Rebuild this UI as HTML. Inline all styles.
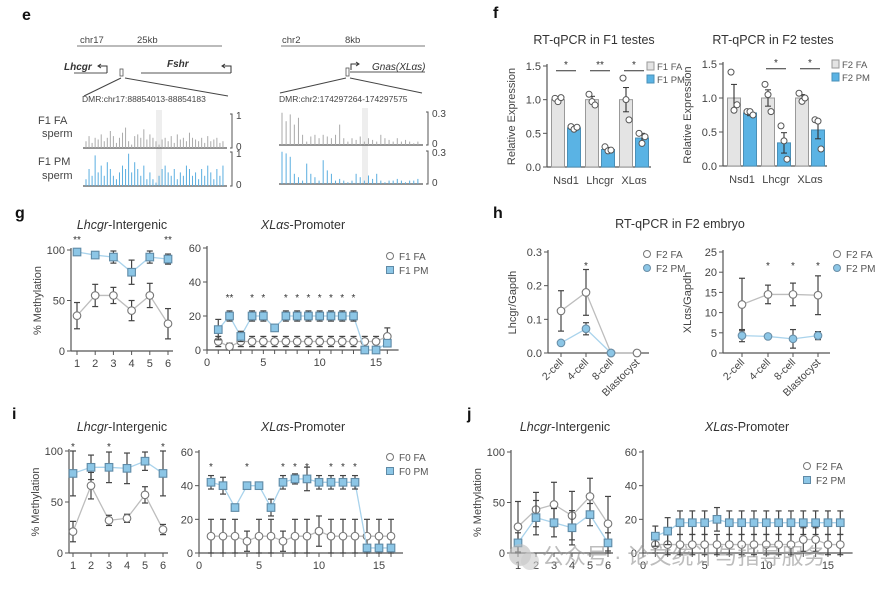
<!DOCTYPE html>
<html><head><meta charset="utf-8"><style>
html,body{margin:0;padding:0;background:#fff;}
svg{display:block;font-family:"Liberation Sans","Noto Sans CJK SC",sans-serif;}
</style></head><body>
<svg id="fig" width="896" height="592" viewBox="0 0 896 592"></svg>
<script>
// ---------- data ----------
const eFaLeft=[0.2,0.35,0.15,0.3,0.25,0.4,0.2,0.3,0.5,0.35,0.15,0.3,0.45,0.6,0.2,0.1,0.35,0.4,0.3,0.55,0.25,0.4,0.3,0.2,0.1,0.25,0.3,0.2,0.35,0.15,0.4,0.25,0.3,0.2,0.45,0.3,0.25,0.2,0.3,0.15,0.35,0.2,0.25,0.3,0.15,0.2];
const ePmLeft=[0.2,0.5,0.3,0.9,0.4,0.6,0.3,0.7,0.5,0.3,0.2,0.4,0.6,0.5,0.95,0.4,0.7,0.5,0.3,0.6,0.2,0.4,0.2,0.1,0.3,0.5,0.6,0.4,0.3,0.5,0.2,0.4,0.3,0.6,0.5,0.3,0.4,0.2,0.5,0.3,0.6,0.4,0.2,0.5,0.3,0.6];
const eFaRight=[0.95,0.7,0.9,0.6,0.8,0.3,0.1,0.25,0.3,0.2,0.3,0.25,0.2,0.3,0.6,0.2,0.1,0.2,0.15,0.25,0.1,0.2,0.15,0.1,0.3,0.2,0.15,0.1,0.2,0.1,0.15,0.1,0.05,0.1];
const ePmRight=[0.95,0.9,0.8,0.3,0.2,0.1,0.6,0.3,0.2,0.1,0.7,0.4,0.3,0.1,0.15,0.1,0.05,0.1,0.3,0.2,0.1,0.25,0.15,0.3,0.1,0.05,0.1,0.1,0.15,0.1,0.05,0.1,0.1,0.15];
const fCats=["Nsd1","Lhcgr","XLas"];
const f1FA=[1.0,1.0,1.0], f1FAerr=[0.04,0.05,0.18];
const f1PM=[0.58,0.26,0.43], f1PMerr=[0.03,0.03,0.07];
const f1FAdots=[[1.02,0.97,1.03],[1.08,0.97,0.92],[1.32,1.0,0.7]];
const f1PMdots=[[0.6,0.56,0.59],[0.3,0.24,0.25],[0.5,0.35,0.45]];
const f1Sig=["*","**","*"];
const f2FA=[1.0,1.0,1.0], f2FAerr=[0.2,0.12,0.05];
const f2PM=[0.78,0.34,0.53], f2PMerr=[0.04,0.15,0.13];
const f2FAdots=[[1.38,0.82,0.9],[1.2,1.05,0.8],[1.07,0.95,1.0]];
const f2PMdots=[[0.8,0.8,0.75],[0.59,0.37,0.1],[0.68,0.66,0.25]];
const f2Sig=["","*","*"];
const fTicks=[0,0.5,1.0,1.5];
const gLFA=[35,55,55,40,55,27], gLFAerr=[13,11,8,10,12,15];
const gLPM=[98,95,93,78,93,91], gLPMerr=[2,2,6,12,6,5];
const gLStars=["**","","","","","**"];
const gRFA=[5,2,5,5,5,5,5,5,5,5,5,5,5,5,5,8], gRFAerr=[3,2,3,3,3,3,3,3,3,3,3,3,3,3,3,5];
const gRPM=[12,20,8,20,20,13,20,20,20,20,20,20,20,0,0,4], gRPMerr=[6,3,3,3,3,0,3,3,3,3,3,3,3,0,0,0];
const gRStars=["","**","","*","*","","*","*","*","*","*","*","*","","",""];
const hCats=["2-cell","4-cell","8-cell","Blastocyst"];
const hLFA=[0.125,0.18,0,0], hLFAerr=[0.06,0.068,0,0];
const hLPM=[0.03,0.072,0,null], hLPMerr=[0.005,0.018,0,0];
const hLStars=["","*","",""];
const hRFA=[12,14.5,14.5,14.3], hRFAerr=[6.5,2.3,2.8,4.8];
const hRPM=[4.3,4.1,3.5,4.3], hRPMerr=[1.5,0.3,2.3,1];
const hRStars=["","*","*","*"];
const iLFA=[21,66,32,34,57,23], iLFAerr=[10,13,5,4,8,5];
const iLPM=[78,84,84,83,90,78], iLPMerr=[22,12,15,15,9,22];
const iLStars=["*","","*","","","*"];
const iRFA=[10,10,10,7,10,10,7,10,10,13,10,10,10,10,10,10], iRFAerr=[10,10,10,6,10,10,6,10,10,9,10,10,10,10,10,10];
const iRPM=[42,40,27,40,40,27,42,44,44,42,42,42,42,3,3,3], iRPMerr=[4,5,0,2,2,5,4,3,7,4,4,4,4,2,2,2];
const iRStars=["*","","","*","","","*","*","*","","*","*","*","","",""];
const jLFA=[26,43,48,37,56,29], jLFAerr=[25,17,22,24,18,27];
const jLPM=[10,35,30,25,38,10], jLPMerr=[10,17,14,17,11,10];
const jRFA=[5,5,5,5,5,5,5,5,5,5,5,5,8,8,5,5], jRFAerr=[5,6,6,6,6,6,6,6,6,6,6,6,7,7,6,6];
const jRPM=[10,13,18,18,18,20,18,18,18,18,18,18,18,18,18,18], jRPMerr=[6,8,7,7,7,7,7,7,7,7,7,7,7,7,7,7];

// ---------- helpers ----------
const NS="http://www.w3.org/2000/svg";
const S=document.getElementById('fig');
function mk(tag,attrs,par){const e=document.createElementNS(NS,tag);for(const k in attrs)e.setAttribute(k,attrs[k]);(par||S).appendChild(e);return e;}
function tx(x,y,s,size,anchor,extra,par){const e=mk('text',Object.assign({x:x,y:y,'font-size':size,'text-anchor':anchor||'start',fill:'#333'},extra||{}),par);e.textContent=s;return e;}
function grp(name){const g=mk('g',{});return g;}
const AX='#555', ERR='#444', BLUE='#8cc6e6', BLUEL='#a9d3ec', GRAYL='#bdbdbd';

function yAxis(g,x,yb,yt,ticks,ys,fmt){
  const l=mk('line',{x1:x,y1:yb,x2:x,y2:yt-2,stroke:AX,'stroke-width':1.2},g);
  
  ticks.forEach(t=>{mk('line',{x1:x-4,y1:ys(t),x2:x,y2:ys(t),stroke:AX},g);
    const e=tx(x-6,ys(t)+4,fmt?fmt(t):t,11,'end',{fill:'#444'},g);
    });
}
function xAxisNum(g,x0,x1,yb,xs,tickVals,labelVals){
  const l=mk('line',{x1:x0,y1:yb,x2:x1,y2:yb,stroke:AX,'stroke-width':1.2},g);
  
  tickVals.forEach(t=>mk('line',{x1:xs(t),y1:yb,x2:xs(t),y2:yb+4,stroke:AX},g));
  labelVals.forEach(t=>{const e=tx(xs(t),yb+16,t,11,'middle',{fill:'#444'},g);
    });
}
function series(g,vals,errs,xs,ys,kind,name){
  const sg=mk('g',{},g);
  const pts=[];vals.forEach((v,i)=>{if(v!==null)pts.push(xs(i)+','+ys(v));});
  mk('polyline',{points:pts.join(' '),fill:'none',stroke:kind==='c'?GRAYL:BLUEL,'stroke-width':1.3},sg);
  vals.forEach((v,i)=>{if(v===null)return;const x=xs(i),e=errs[i];
    if(e>0){mk('line',{x1:x,y1:ys(v-e),x2:x,y2:ys(v+e),stroke:ERR,'stroke-width':1.2},sg);
      mk('line',{x1:x-3,y1:ys(v+e),x2:x+3,y2:ys(v+e),stroke:ERR,'stroke-width':1.2},sg);
      mk('line',{x1:x-3,y1:ys(v-e),x2:x+3,y2:ys(v-e),stroke:ERR,'stroke-width':1.2},sg);}
    let m;
    if(kind==='c')m=mk('circle',{cx:x,cy:ys(v),r:3.8,fill:'#fff',stroke:'#777','stroke-width':1.1},sg);
    else if(kind==='bc')m=mk('circle',{cx:x,cy:ys(v),r:3.8,fill:BLUE,stroke:'#6a8fa8','stroke-width':1.1},sg);
    else m=mk('rect',{x:x-3.8,y:ys(v)-3.8,width:7.6,height:7.6,fill:BLUE,stroke:'#5f8aa6','stroke-width':1.1},sg);
    
  });
}
function stars(g,arr,xs,y){arr.forEach((s,i)=>{if(s){const e=tx(xs(i),y,s,10,'middle',{fill:'#333'},g);}});}
function legend(g,x,y,l1,l2,kind2){
  const c=mk('circle',{cx:x,cy:y-4,r:3.5,fill:'#fff',stroke:'#777'},g);
  
  tx(x+9,y,l1,10,'start',{fill:'#555'},g);
  let m;
  if(kind2==='bc')m=mk('circle',{cx:x,cy:y+10,r:3.5,fill:BLUE,stroke:'#6a8fa8'},g);
  else m=mk('rect',{x:x-3.5,y:y+6.5,width:7,height:7,fill:BLUE,stroke:'#5f8aa6'},g);
  
  tx(x+9,y+14,l2,10,'start',{fill:'#555'},g);
}
function title(g,x,y,it,rest){const t=tx(x,y,'',12.5,'middle',{fill:'#333'},g);
  const a=mk('tspan',{'font-style':'italic'},t);a.textContent=it;const b=mk('tspan',{},t);b.textContent=rest;
  }
function ytitle(g,x,y,s){const e=tx(x,y,s,11,'middle',{fill:'#444',transform:'rotate(-90 '+x+' '+y+')'},g);}
function letter(x,y,s){const e=tx(x,y,s,16,'start',{'font-weight':'bold',fill:'#111'});}

function methPanel(name,cfg){
  const g=grp(name);
  const L=cfg.L;
  const lxs=i=>L.x1+i*(L.x6-L.x1)/5, lxsN=d=>L.x1+(d-1)*(L.x6-L.x1)/5;
  const lys=v=>L.y0-v*(L.y0-L.yT)/100;
  yAxis(g,L.ax,L.y0,L.yT,[0,50,100],lys);
  xAxisNum(g,L.ax,L.x6+5,L.y0,lxsN,[1,2,3,4,5,6],[1,2,3,4,5,6]);
  series(g,cfg.lfa,cfg.lfaE,lxs,lys,'c','left-fa-series');
  series(g,cfg.lpm,cfg.lpmE,lxs,lys,'s','left-pm-series');
  if(cfg.lst)stars(g,cfg.lst,lxs,L.starY);
  title(g,L.tx,L.ty,'Lhcgr','-Intergenic');
  ytitle(g,L.ax-30,(L.y0+L.yT)/2,'% Methylation');
  const R=cfg.R;
  const rxsN=d=>R.ax+d*R.u, rxs=i=>R.ax+(i+1)*R.u;
  const rys=v=>R.y0-v*(R.y0-R.yT)/60;
  yAxis(g,R.ax,R.y0,R.yT,[0,20,40,60],rys);
  xAxisNum(g,R.ax,R.ax+17*R.u,R.y0,rxsN,[0,1,2,3,4,5,6,7,8,9,10,11,12,13,14,15,16],[0,5,10,15]);
  series(g,cfg.rfa,cfg.rfaE,rxs,rys,'c','right-fa-series');
  series(g,cfg.rpm,cfg.rpmE,rxs,rys,'s','right-pm-series');
  if(cfg.rst)stars(g,cfg.rst,rxs,R.starY);
  title(g,R.tx,L.ty,'XLαs','-Promoter');
  legend(g,R.lx,R.ly,cfg.l1,cfg.l2,'s');
}

// panel e
(function(){
  const g=grp('panel-e-genome-tracks');
  letter(22,20,'e');
  mk('line',{x1:77,y1:46,x2:222,y2:46,stroke:'#777'},g);
  tx(80,43,'chr17',9.5,'start',{fill:'#444'},g);tx(137,43,'25kb',9.5,'start',{fill:'#444'},g);
  mk('line',{x1:281,y1:46,x2:425,y2:46,stroke:'#777'},g);
  tx(282,43,'chr2',9.5,'start',{fill:'#444'},g);tx(345,43,'8kb',9.5,'start',{fill:'#444'},g);
  tx(64,70,'Lhcgr',10,'start',{'font-style':'italic','font-weight':'bold',fill:'#333'},g);
  mk('line',{x1:74,y1:73,x2:107,y2:73,stroke:'#555'},g);
  mk('path',{d:'M107,73 V66 H98 M101,64 L98,66 L101,68',fill:'none',stroke:'#333'},g);
  mk('rect',{x:120,y:69,width:3,height:7,fill:'#fff',stroke:'#555','stroke-width':0.8},g);
  tx(167,67,'Fshr',10,'start',{'font-style':'italic','font-weight':'bold',fill:'#333'},g);
  mk('line',{x1:141,y1:73,x2:231,y2:73,stroke:'#555'},g);
  mk('path',{d:'M231,73 V66 H222 M225,64 L222,66 L225,68',fill:'none',stroke:'#333'},g);
  mk('path',{d:'M121,78 L84,96 M125,78 L228,96',fill:'none',stroke:'#444'},g);
  tx(82,102,'DMR:chr17:88854013-88854183',8.5,'start',{fill:'#444'},g);
  tx(372,70,'Gnas(XLαs)',10,'start',{'font-style':'italic',fill:'#333'},g);
  mk('rect',{x:346,y:68,width:3,height:8,fill:'#fff',stroke:'#555','stroke-width':0.8},g);
  mk('line',{x1:350,y1:72,x2:425,y2:72,stroke:'#555'},g);
  mk('path',{d:'M351,70 V64 H359 M356,62 L359,64 L356,66',fill:'none',stroke:'#333'},g);
  mk('path',{d:'M346,78 L280,93 M350,78 L422,93',fill:'none',stroke:'#444'},g);
  tx(279,102,'DMR:chr2:174297264-174297575',8.5,'start',{fill:'#444'},g);
  tx(38,124,'F1 FA',11,'start',{fill:'#444'},g);tx(42,137,'sperm',11,'start',{fill:'#444'},g);
  tx(38,165,'F1 PM',11,'start',{fill:'#444'},g);tx(42,179,'sperm',11,'start',{fill:'#444'},g);
  mk('rect',{x:156,y:110,width:6,height:76,fill:'#eee'},g);
  mk('rect',{x:362,y:108,width:6,height:76,fill:'#eee'},g);
  function track(vals,x0,x1,yb,color,name){
    const tg=mk('g',{},g);
    mk('line',{x1:x0,y1:yb,x2:x1,y2:yb,stroke:'#555','stroke-width':1.2},tg);
    const step=(x1-x0-4)/vals.length;
    vals.forEach((v,i)=>mk('line',{x1:x0+3+i*step,y1:yb,x2:x0+3+i*step,y2:yb-v*34,stroke:color,'stroke-width':1},tg));
  }
  track(eFaLeft,83,227,148,'#aaa','fa-left-track');
  track(ePmLeft,83,227,186,'#5aaee0','pm-left-track');
  track(eFaRight,279,423,145,'#aaa','fa-right-track');
  track(ePmRight,279,423,184,'#5aaee0','pm-right-track');
  [[232,114,148,'1','0'],[232,152,186,'1','0'],[428,112,145,'0.3','0'],[428,151,184,'0.3','0']].forEach(s=>{
    mk('path',{d:'M'+(s[0]-2)+','+s[1]+' H'+s[0]+' V'+s[2]+' H'+(s[0]-2),fill:'none',stroke:'#555'},g);
    tx(s[0]+4,s[1]+5,s[3],10,'start',{fill:'#444'},g);tx(s[0]+4,s[2]+2,s[4],10,'start',{fill:'#444'},g);});
})();

// panel f
function barPanel(name,cfg){
  const g=grp(name);
  const ys=v=>cfg.y0-v*(cfg.y0-cfg.yT)/1.5;
  yAxis(g,cfg.ax,cfg.y0,cfg.yT,fTicks,ys,t=>t.toFixed(1));
  const xl=mk('line',{x1:cfg.ax,y1:cfg.y0,x2:cfg.ax+104,y2:cfg.y0,stroke:AX,'stroke-width':1.2},g);
  
  const xc=i=>cfg.ax+19+i*34;
  fCats.forEach((c,i)=>{
    const xa=xc(i)-8,xb=xc(i)+8,w=13;
    const b1=mk('rect',{x:xa-w/2,y:ys(cfg.fa[i]),width:w,height:cfg.y0-ys(cfg.fa[i]),fill:'#e4e4e4',stroke:'#999'},g);
    
    const b2=mk('rect',{x:xb-w/2,y:ys(cfg.pm[i]),width:w,height:cfg.y0-ys(cfg.pm[i]),fill:'#5ab3e4',stroke:'#4a90b8'},g);
    
    [[xa,cfg.fa[i],cfg.faE[i],cfg.faD[i]],[xb,cfg.pm[i],cfg.pmE[i],cfg.pmD[i]]].forEach(q=>{
      mk('line',{x1:q[0],y1:ys(q[1]-q[2]),x2:q[0],y2:ys(q[1]+q[2]),stroke:'#333','stroke-width':1.1},g);
      mk('line',{x1:q[0]-3,y1:ys(q[1]+q[2]),x2:q[0]+3,y2:ys(q[1]+q[2]),stroke:'#333'},g);
      mk('line',{x1:q[0]-3,y1:ys(q[1]-q[2]),x2:q[0]+3,y2:ys(q[1]-q[2]),stroke:'#333'},g);
      q[3].forEach((d,k)=>mk('circle',{cx:q[0]+(k-1)*3,cy:ys(d),r:3,fill:'#fff',stroke:'#555'},g));
    });
    if(cfg.sig[i]){mk('line',{x1:xa-2,y1:ys(1.43),x2:xb+2,y2:ys(1.43),stroke:'#333'},g);
      tx(xc(i),ys(1.47),cfg.sig[i],10,'middle',{},g);}
    const l=tx(xc(i),cfg.y0+17,c==='XLas'?'XLαs':c,11,'middle',{fill:'#444'},g);
    
  });
  const t=tx(cfg.tx,44,cfg.title,12.5,'middle',{fill:'#333'},g);
  
  ytitle(g,cfg.ax-32,(cfg.y0+cfg.yT)/2,'Relative Expression');
  mk('rect',{x:cfg.lx,y:cfg.yT-4,width:7,height:8,fill:'#e4e4e4',stroke:'#999'},g);
  tx(cfg.lx+10,cfg.yT+4,cfg.l1,9.5,'start',{fill:'#555'},g);
  mk('rect',{x:cfg.lx,y:cfg.yT+9,width:7,height:8,fill:'#5ab3e4',stroke:'#4a90b8'},g);
  tx(cfg.lx+10,cfg.yT+17,cfg.l2,9.5,'start',{fill:'#555'},g);
}
letter(493,18,'f');
barPanel('panel-f-f1-testes',{ax:547,y0:167,yT:66,fa:f1FA,faE:f1FAerr,pm:f1PM,pmE:f1PMerr,faD:f1FAdots,pmD:f1PMdots,sig:f1Sig,title:'RT-qPCR in F1 testes',tx:594,lx:647,l1:'F1 FA',l2:'F1 PM'});
barPanel('panel-f-f2-testes',{ax:723,y0:166,yT:64,fa:f2FA,faE:f2FAerr,pm:f2PM,pmE:f2PMerr,faD:f2FAdots,pmD:f2PMdots,sig:f2Sig,title:'RT-qPCR in F2 testes',tx:773,lx:832,l1:'F2 FA',l2:'F2 PM'});

letter(15,218,'g');
methPanel('panel-g',{L:{ax:71,x1:77,x6:168,y0:351,yT:250,tx:122,ty:229,starY:243},
  R:{ax:207,u:11.27,y0:350,yT:248,starY:301,lx:390,ly:260,tx:303},
  lfa:gLFA,lfaE:gLFAerr,lpm:gLPM,lpmE:gLPMerr,lst:gLStars,
  rfa:gRFA,rfaE:gRFAerr,rpm:gRPM,rpmE:gRPMerr,rst:gRStars,l1:'F1 FA',l2:'F1 PM'});
letter(12,419,'i');
methPanel('panel-i',{L:{ax:69,x1:73,x6:163,y0:553,yT:451,tx:122,ty:431,starY:450},
  R:{ax:199,u:12,y0:553,yT:452,starY:470,lx:390,ly:461,tx:303},
  lfa:iLFA,lfaE:iLFAerr,lpm:iLPM,lpmE:iLPMerr,lst:iLStars,
  rfa:iRFA,rfaE:iRFAerr,rpm:iRPM,rpmE:iRPMerr,rst:iRStars,l1:'F0 FA',l2:'F0 PM'});
letter(467,419,'j');
methPanel('panel-j',{L:{ax:511,x1:518,x6:608,y0:553,yT:452,tx:565,ty:431,starY:0},
  R:{ax:643,u:12.33,y0:553,yT:452,starY:0,lx:807,ly:470,tx:747},
  lfa:jLFA,lfaE:jLFAerr,lpm:jLPM,lpmE:jLPMerr,lst:null,
  rfa:jRFA,rfaE:jRFAerr,rpm:jRPM,rpmE:jRPMerr,rst:null,l1:'F2 FA',l2:'F2 PM'});

// panel h
(function(){
  const g=grp('panel-h');
  letter(493,218,'h');
  const t=tx(680,228,'RT-qPCR in F2 embryo',12.5,'middle',{},g);
  
  function sub(ax,cx,y0,yT,max,ticks,fmt,fa,faE,pm,pmE,st,lx,yt){
    const ys=v=>y0-v*(y0-yT)/max, xs=i=>cx[i];
    yAxis(g,ax,y0,yT,ticks,ys,fmt);
    const xl=mk('line',{x1:ax,y1:y0,x2:cx[3]+12,y2:y0,stroke:AX,'stroke-width':1.2},g);
    
    hCats.forEach((c,i)=>{mk('line',{x1:cx[i],y1:y0,x2:cx[i],y2:y0+4,stroke:AX},g);
      const l=tx(cx[i]+3,y0+10,c,10.5,'end',{fill:'#444',transform:'rotate(-45 '+(cx[i]+3)+' '+(y0+10)+')'},g);
      });
    series(g,fa,faE,xs,ys,'c','fa-series');
    series(g,pm,pmE,xs,ys,'bc','pm-series');
    stars(g,st,xs,ys(max*0.87)+4);
    legend(g,lx,258,'F2 FA','F2 PM','bc');
    ytitle(g,ax-32,(y0+yT)/2,yt);
  }
  sub(548,[561,586,611,637],353,252,0.3,[0,0.1,0.2,0.3],t=>t.toFixed(1),hLFA,hLFAerr,hLPM,hLPMerr,hLStars,647,'Lhcgr/Gapdh');
  sub(723,[742,768,793,818],353,252,25,[0,5,10,15,20,25],null,hRFA,hRFAerr,hRPM,hRPMerr,hRStars,837,'XLαs/Gapdh');
})();

(function(){
  const g=grp('watermark');
  mk('circle',{cx:520,cy:555,r:11,fill:'#bbb','fill-opacity':0.6},g);
  mk('circle',{cx:530,cy:561,r:9,fill:'#ccc','fill-opacity':0.6},g);
  tx(542,564,'公众号 · 论文统计与指导服务',22,'start',{fill:'#999','fill-opacity':0.65},g);
})();
</script>
</body></html>
